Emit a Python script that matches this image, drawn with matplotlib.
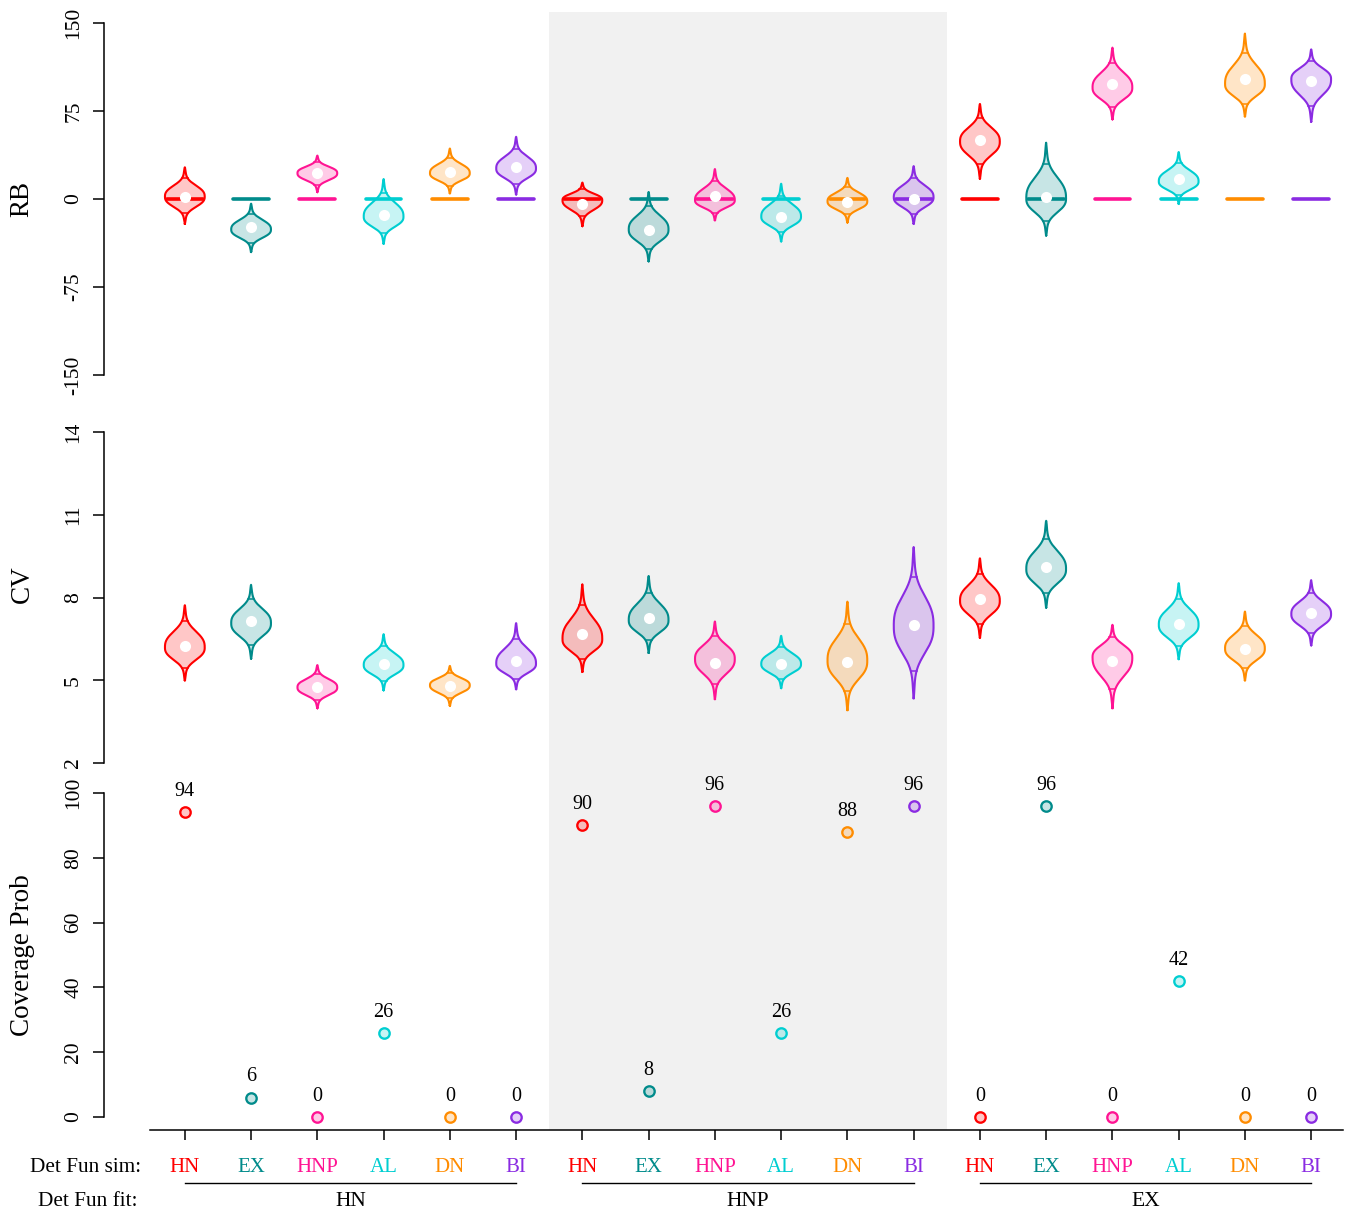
import matplotlib.pyplot as plt
import numpy as np
from matplotlib.patches import Rectangle
from matplotlib.transforms import blended_transform_factory

plt.rcParams['font.family'] = ['Liberation Serif', 'DejaVu Serif']
plt.rcParams['axes.unicode_minus'] = False

## Data ##

sim_names = ['HN', 'EX', 'HNP', 'AL', 'DN', 'BI']
fit_names = ['HN', 'HNP', 'EX']
sim_colors = ['#FF0000', '#008B8B', '#FF1493', '#00CED1', '#FF8C00', '#8A2BE2']

# relative bias (%) per fit x sim: median dot, widest point, lower tip, upper tip
rb_median = [2, -24, 22, -14, 23, 27,
             -4, -26, 2.5, -15, -2.5, 0,
             50, 1.5, 98, 17, 102, 100.5]
rb_mode = [2, -26, 22, -15, 22, 26,
           -1, -26, -1, -15, -2, 1.5,
           49, 0.5, 95, 15, 98, 102]
rb_low = [-21, -45, 6, -38, 5, 4,
          -23, -53, -18, -36, -20, -21,
          17.5, -31, 68, -4, 70.5, 66]
rb_high = [27, -4, 37, 17, 43, 53,
           14, 6, 25.5, 13, 18, 28,
           81, 48, 129, 40, 141, 127.5]
rb_true = [0] * 18

# coefficient of variation (%)
cv_median = [6.23, 7.15, 4.74, 5.59, 4.80, 5.68,
             6.67, 7.25, 5.62, 5.59, 5.65, 7.01,
             7.94, 9.09, 5.71, 7.03, 6.15, 7.42]
cv_mode = [6.19, 7.07, 4.74, 5.55, 4.82, 5.60,
           6.49, 7.18, 5.77, 5.59, 5.71, 6.97,
           7.88, 9.03, 5.83, 7.01, 6.15, 7.40]
cv_low = [5.00, 5.79, 3.99, 4.64, 4.08, 4.68,
          5.31, 6.00, 4.32, 4.72, 3.92, 4.35,
          6.55, 7.64, 3.99, 5.77, 5.00, 6.27]
cv_high = [7.72, 8.46, 5.55, 6.67, 5.52, 7.07,
           8.48, 8.78, 7.13, 6.61, 7.85, 9.83,
           9.42, 10.78, 7.01, 8.52, 7.49, 8.63]

# coverage probability (%)
coverage = [94, 6, 0, 26, 0, 0,
            90, 8, 96, 26, 88, 96,
            0, 96, 0, 42, 0, 0]

## Layout helpers ##

W, H = 1351, 1213
positions = np.arange(1, 19)
colors = sim_colors * 3
labels = sim_names * 3


def px_rect(left, top, right, bottom):
    return [left / W, 1 - bottom / H, (right - left) / W, (bottom - top) / H]


def violin_profile(lo, mode, hi, n=240):
    y = np.linspace(lo, hi, n)
    s_up = (hi - mode) / 2.9
    s_dn = (mode - lo) / 2.9
    z = np.where(y >= mode, (y - mode) / s_up, (mode - y) / s_dn)
    body = np.exp(-0.5 * np.abs(z) ** 2.6)
    tail = 0.09 * np.sqrt(np.clip(1 - z / 2.9, 0, 1))
    h = body + (1 - body) * tail
    h[0] = h[-1] = 0
    return y, h


def draw_violins(ax, med, mode, lo, hi, half=0.3):
    for x, m, md, a, b, c in zip(positions, med, mode, lo, hi, colors):
        y, h = violin_profile(a, md, b)
        ax.fill_betweenx(y, x - h * half, x + h * half, color=c, alpha=0.22,
                         lw=0, clip_on=False, zorder=2)
        ax.plot(np.r_[x + h * half, (x - h * half)[::-1]], np.r_[y, y[::-1]],
                color=c, lw=1.5, clip_on=False, zorder=3)
        # chords where the body meets the tails
        for yc in (md + 0.62 * (b - md), md - 0.62 * (md - a)):
            hc = np.interp(yc, y, h) * half
            ax.plot([x - hc, x + hc], [yc, yc], color=c, lw=1.1, zorder=3)
        ax.plot(x, m, 'o', color='white', ms=8, mec='none', zorder=4)


def style_axis(ax, ylim, ticks, label, label_y=0.5):
    ax.set_facecolor('none')
    ax.set_xlim(-0.22, 18.48)
    ax.set_ylim(*ylim)
    for s in ('top', 'right', 'bottom'):
        ax.spines[s].set_visible(False)
    ax.spines['left'].set_linewidth(1.1)
    ax.set_xticks([])
    ax.set_yticks(ticks)
    ax.tick_params(axis='y', length=8, width=1.1, labelsize=15.5, pad=7,
                   labelrotation=90)
    for t in ax.get_yticklabels():
        t.set_va('center')
    ax.set_ylabel(label, fontsize=19.5)
    ax.yaxis.set_label_coords(-0.056, label_y)


## Figure ##

fig = plt.figure(figsize=(W / 100, H / 100), dpi=100)
ax_rb = fig.add_axes(px_rect(104, 23, 1343, 375))
ax_cv = fig.add_axes(px_rect(104, 432, 1343, 763))
ax_cp = fig.add_axes(px_rect(104, 793, 1343, 1117))

style_axis(ax_rb, (-150, 150), [-150, -75, 0, 75, 150], 'RB')
style_axis(ax_cv, (2, 14), [2, 5, 8, 11, 14], 'CV', label_y=0.54)
style_axis(ax_cp, (0, 100), [0, 20, 40, 60, 80, 100], 'Coverage Prob')

# shaded middle block (HNP fit)
shade_tr = blended_transform_factory(ax_rb.transData, fig.transFigure)
shade = Rectangle((6.5, 1 - 1130 / H), 6.0, (1130 - 12) / H, transform=shade_tr,
                  facecolor='#f1f1f1', edgecolor='none', zorder=-1)
fig.add_artist(shade)

# RB panel
draw_violins(ax_rb, rb_median, rb_mode, rb_low, rb_high)
for x, v, c in zip(positions, rb_true, colors):
    ax_rb.plot([x - 0.27, x + 0.27], [v, v], color=c, lw=2.6,
               solid_capstyle='round', zorder=3)

# CV panel
draw_violins(ax_cv, cv_median, cv_mode, cv_low, cv_high)

# coverage panel
for x, v, c in zip(positions, coverage, colors):
    ax_cp.plot(x, v, 'o', ms=7.5, mfc=c, mec=c, mew=1.6, alpha=0.22, zorder=3,
               clip_on=False)
    ax_cp.plot(x, v, 'o', ms=7.5, mfc='none', mec=c, mew=1.6, zorder=4,
               clip_on=False)
    ax_cp.annotate(str(v), (x, v), xytext=(0, 8), textcoords='offset points',
                   ha='center', va='bottom', fontsize=14.5)

# bottom axis
ax_cp.spines['bottom'].set_visible(True)
ax_cp.spines['bottom'].set_position(('outward', 9.4))
ax_cp.spines['bottom'].set_bounds(0.47, 18.48)
ax_cp.spines['bottom'].set_linewidth(1.1)
ax_cp.set_xticks(positions)
ax_cp.set_xticklabels([])
ax_cp.tick_params(axis='x', length=7.5, width=1.1)

tr = blended_transform_factory(ax_cp.transData, fig.transFigure)
y_sim = 1 - 1167 / H
y_line = 1 - 1183 / H
y_fit = 1 - 1201 / H
for x, lab, c in zip(positions, labels, colors):
    ax_cp.text(x, y_sim, lab, color=c, fontsize=15, ha='center', va='center',
               transform=tr)
for g, name in enumerate(fit_names):
    x0, x1 = positions[g * 6], positions[g * 6 + 5]
    ax_cp.plot([x0, x1], [y_line, y_line], color='black', lw=1.0,
               transform=tr, clip_on=False)
    ax_cp.text((x0 + x1) / 2, y_fit, name, fontsize=15.5, ha='center',
               va='center', transform=tr)
fig.text(141 / W, y_sim, 'Det Fun sim:', fontsize=15.3, ha='right', va='center')
fig.text(138 / W, y_fit, 'Det Fun fit:', fontsize=15.3, ha='right', va='center')

fig.savefig('out.png', dpi=100)
